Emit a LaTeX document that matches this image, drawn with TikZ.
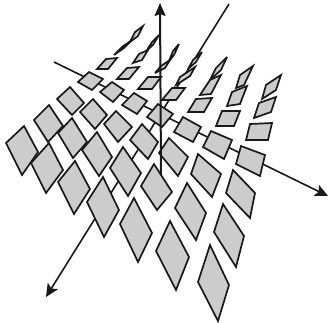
\documentclass[tikz,border=0pt]{standalone}
\usetikzlibrary{arrows.meta}
\tikzset{
  tile/.style={draw=black!90,fill=black!20,line width=1.7pt,line join=miter,miter limit=5},
  axisline/.style={draw=black!90,line width=1.6pt,-{Stealth[length=13pt,width=12pt,inset=3pt]}},
  vaxis/.style={draw=black!90,line width=2pt,-{Stealth[length=13pt,width=11pt,inset=2pt]}}
}
\begin{document}
\begin{tikzpicture}[x=1pt,y=-1pt]
\useasboundingbox (0,0) rectangle (328,322);
\coordinate (xs) at (54,62);
\coordinate (xe) at (328,196);
\coordinate (ys) at (229,4);
\coordinate (ye) at (46,297);
\coordinate (zs) at (161,175);
\coordinate (ze) at (160,3);
\draw[axisline] (xs) -- (xe);
\draw[axisline] (ys) -- (ye);
\foreach \a/\b/\c/\d in {
 % column 1
 {143,26}/{138,36}/{130,42}/{135,32},
 {132,40}/{124,48}/{114,55}/{122,47},
 {117,58}/{108,69}/{97,69}/{106,59},
 {89,72}/{103,79}/{92,90}/{78,82},
 {70,87}/{84,103}/{72,115}/{57,99},
 {49,105}/{63,126}/{48,142}/{34,120},
 {24,126}/{38,152}/{22,175}/{6,143},
 % column 2
 {159,35}/{153,45}/{147,50}/{152,42},
 {148,50}/{142,60}/{133,63}/{139,54},
 {139,67}/{129,79}/{117,79}/{127,68},
 {112,82}/{124,90}/{113,102}/{100,92},
 {93,99}/{107,115}/{95,129}/{80,112},
 {72,118}/{87,142}/{73,158}/{58,133},
 {49,143}/{63,170}/{46,193}/{31,163},
 % column 3
 {179,44}/{174,55}/{169,61}/{173,51},
 {170,60}/{165,68}/{155,73}/{161,66},
 {161,77}/{152,89}/{138,89}/{148,77},
 {134,93}/{147,101}/{137,114}/{122,105},
 {116,111}/{132,127}/{118,142}/{104,124},
 {97,132}/{112,157}/{99,176}/{82,150},
 {75,161}/{90,189}/{74,214}/{58,182},
 % column 4
 {202,52}/{196,62}/{188,69}/{193,60},
 {195,67}/{190,76}/{176,85}/{180,77},
 {185,88}/{176,100}/{162,100}/{172,88},
 {158,104}/{173,114}/{162,127}/{147,117},
 {142,124}/{158,142}/{148,159}/{130,140},
 {123,147}/{141,173}/{128,196}/{110,168},
 {103,177}/{119,210}/{104,237}/{87,202},
 % column 5
 {227,57}/{221,70}/{210,80}/{216,68},
 {221,75}/{211,94}/{200,95}/{210,80},
 {212,98}/{204,112}/{188,112}/{196,99},
 {183,117}/{201,127}/{193,142}/{174,132},
 {169,138}/{188,157}/{178,176}/{159,153},
 {154,164}/{172,192}/{157,210}/{141,186},
 {134,198}/{152,233}/{138,262}/{120,224},
 % column 6
 {253,66}/{244,85}/{236,88}/{240,75},
 {247,86}/{240,104}/{227,106}/{232,92},
 {240,111}/{234,126}/{216,126}/{222,111},
 {211,131}/{232,140}/{224,159}/{203,147},
 {198,154}/{221,174}/{212,197}/{191,174},
 {187,183}/{206,213}/{196,240}/{175,208},
 {170,221}/{189,257}/{176,290}/{156,251},
 % column 7
 {281,75}/{276,90}/{262,99}/{266,85},
 {276,97}/{271,112}/{254,118}/{259,103},
 {272,123}/{268,140}/{246,140}/{250,124},
 {241,146}/{265,155}/{260,176}/{236,164},
 {233,170}/{255,193}/{250,218}/{226,193},
 {223,204}/{244,236}/{236,267}/{214,232},
 {210,245}/{229,285}/{218,321}/{198,282}%
}{
  \draw[tile] (\a) -- (\b) -- (\c) -- (\d) -- cycle;
}
\draw[vaxis] (zs) -- (ze);
\end{tikzpicture}
\end{document}
